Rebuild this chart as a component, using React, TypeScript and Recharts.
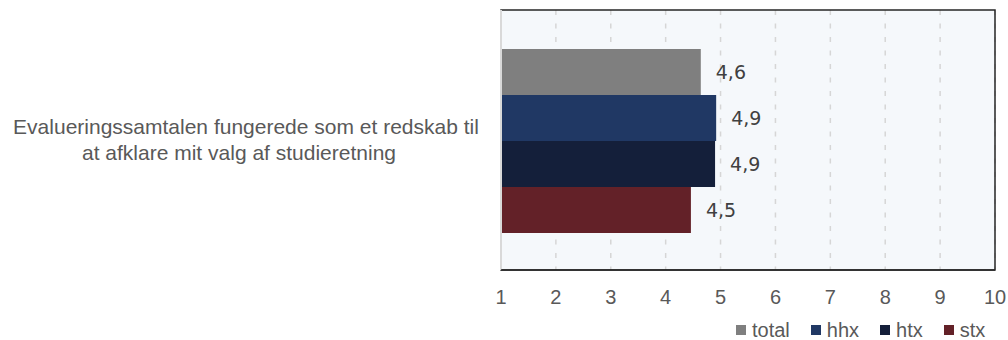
import React from 'react';
import { BarChart, Bar, XAxis, YAxis, CartesianGrid, LabelList, ReferenceArea, ReferenceLine } from 'recharts';

const CATEGORIES = ['Evalueringssamtalen fungerede som et redskab til\nat afklare mit valg af studieretning'];
const SERIES = ['total', 'hhx', 'htx', 'stx'];
const COLORS = ['#7f7f7f', '#203864', '#141f3a', '#632128'];
const TOTAL = [4.64];
const HHX = [4.92];
const HTX = [4.9];
const STX = [4.46];
const X_TICKS = [1, 2, 3, 4, 5, 6, 7, 8, 9, 10];

const VALUES = [TOTAL, HHX, HTX, STX];
const data = CATEGORIES.map((cat, i) => {
  const row: Record<string, string | number> = { cat };
  SERIES.forEach((s, j) => { row[s] = VALUES[j][i]; });
  return row;
});

const FONT = '"Liberation Sans", Arial, sans-serif';
const TEXT = '#595959';

const CategoryTick = (props: any) => {
  const { y, payload } = props;
  const lines = String(payload.value).split('\n');
  return (
    <text textAnchor="middle" fontFamily={FONT} fontSize={21} fill={TEXT}>
      {lines.map((l, i) => (
        <tspan key={i} x={i === 0 ? 246 : 239} y={y - 6 + i * 25.5}>{l}</tspan>
      ))}
    </text>
  );
};

const fmt = (v: any) => Number(v).toFixed(1).replace('.', ',');

export default function App() {
  return (
    <div style={{ position: 'absolute', left: 0, top: 0, width: 1008, height: 340, background: '#fff' }}>
      <BarChart
        width={1008}
        height={340}
        data={data}
        layout="vertical"
        margin={{ top: 10, right: 13, bottom: 40, left: 0 }}
        barCategoryGap="15%"
        barGap={0}
      >
        <CartesianGrid horizontal={false} fill="#f5f8fb" stroke="#d6d6d6" strokeWidth={1.5} strokeDasharray="5 8.5" />
        <XAxis
          type="number"
          domain={[1, 10]}
          ticks={X_TICKS}
          allowDataOverflow
          height={30}
          tickLine={false}
          tickSize={6}
          tickMargin={14}
          axisLine={{ stroke: '#262626', strokeWidth: 1.5 }}
          tick={{ fontFamily: FONT, fontSize: 20, fill: TEXT }}
        />
        <YAxis type="category" dataKey="cat" width={501} axisLine={false} tickLine={false} tick={<CategoryTick />} />
        <ReferenceArea x1={1} x2={10} fill="none" stroke="#262626" strokeWidth={1.5} />
        <ReferenceLine x={1} stroke="#d9d9d9" strokeWidth={2} />
        {SERIES.map((s, j) => (
          <Bar key={s} dataKey={s} fill={COLORS[j]} isAnimationActive={false}>
            <LabelList
              dataKey={s}
              position="right"
              offset={15}
              formatter={fmt}
              style={{ fontFamily: '"DejaVu Sans", sans-serif', fontSize: 19, fill: '#404040' }}
            />
          </Bar>
        ))}
      </BarChart>
      <div
        style={{
          position: 'absolute', left: 736, top: 320, display: 'flex', alignItems: 'center',
          fontFamily: FONT, fontSize: 20, lineHeight: '20px', color: TEXT, whiteSpace: 'nowrap',
        }}
      >
        {SERIES.map((s, j) => (
          <div key={s} style={{ display: 'flex', alignItems: 'center', marginRight: 21 }}>
            <span style={{ width: 10, height: 10, background: COLORS[j], marginRight: 6, display: 'inline-block' }} />
            <span>{s}</span>
          </div>
        ))}
      </div>
    </div>
  );
}
